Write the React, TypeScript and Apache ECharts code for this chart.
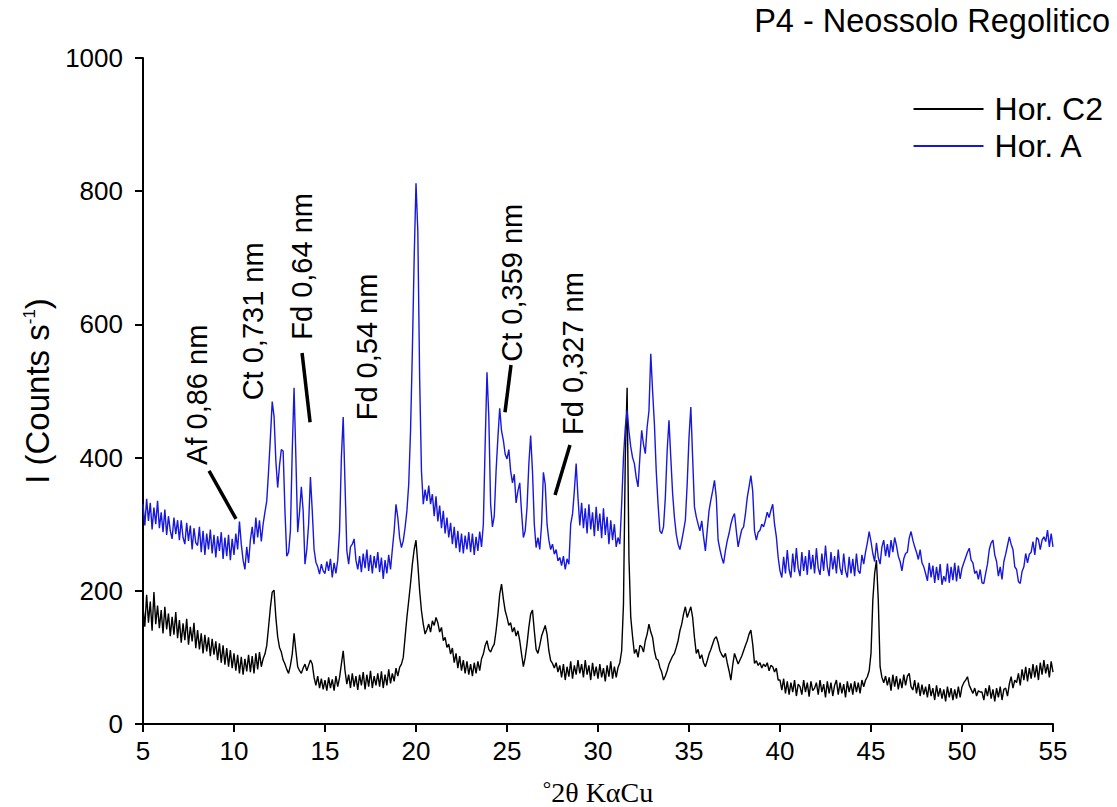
import React, { useEffect, useRef } from "react";
import * as echarts from "echarts";

// 2θ sampling grid of the digitised patterns (degrees)
const TWO_THETA_START = 5;
const TWO_THETA_STEP = 0.1;

// Hor. A (blue), intensity in counts/s, 5.0° .. 55.0° every 0.1°
const horA = [
  330, 298, 338, 305, 332, 292, 325, 300, 335, 294,
  318, 288, 322, 284, 312, 290, 278, 310, 285, 306,
  276, 306, 280, 270, 302, 275, 298, 262, 294, 272,
  268, 296, 258, 290, 254, 286, 262, 292, 256, 284,
  250, 282, 260, 288, 248, 280, 252, 284, 246, 278,
  254, 286, 262, 304, 270, 246, 232, 266, 242, 276,
  296, 270, 310, 280, 306, 274, 300, 318, 335, 380,
  430, 484, 462, 395, 355, 388, 412, 410, 320, 252,
  258, 290, 410, 505, 400, 288, 318, 356, 320, 240,
  262, 300, 371, 320, 262, 243, 236, 225, 240, 230,
  226, 244, 230, 248, 220, 242, 226, 246, 290, 400,
  461, 360, 260, 240, 266, 270, 278, 246, 232, 252,
  228, 256, 234, 262, 230, 254, 226, 252, 234, 258,
  228, 250, 218, 246, 226, 254, 232, 262, 290, 330,
  310, 280, 265, 275, 295, 320, 360, 440, 560, 700,
  812, 740, 520, 380, 330, 352, 335, 358, 330, 345,
  312, 342, 304, 328, 294, 320, 286, 310, 280, 302,
  270, 296, 264, 290, 258, 286, 256, 283, 262, 288,
  258, 286, 254, 281, 260, 289, 266, 300, 420, 528,
  462, 330, 296, 312, 380, 430, 474, 440, 426, 405,
  398, 412, 380, 362, 375, 332, 350, 362, 318, 280,
  290, 325, 390, 433, 380, 300, 265, 280, 262, 300,
  378, 360, 300, 276, 262, 270, 255, 262, 245, 250,
  238, 252, 232, 248, 240, 300, 315, 350, 391, 340,
  298, 332, 294, 324, 286, 330, 292, 318, 282, 326,
  290, 316, 279, 324, 284, 311, 270, 306, 276, 300,
  266, 280, 270, 330, 400, 445, 471, 440, 416, 400,
  391, 370, 356, 400, 441, 420, 406, 446, 470, 556,
  500, 450, 380, 330, 290, 286, 296, 340, 410, 456,
  400, 346, 310, 285, 270, 262, 275, 290, 306, 360,
  430, 476, 400, 326, 311, 300, 290, 305, 281, 260,
  290, 320, 336, 350, 366, 340, 276, 262, 250, 241,
  260, 275, 286, 300, 310, 316, 290, 266, 280, 292,
  296, 315, 340, 356, 373, 350, 290, 276, 288, 291,
  300, 296, 306, 318, 310, 321, 330, 300, 281, 250,
  230, 220, 251, 226, 261, 232, 220, 256, 228, 264,
  234, 222, 258, 230, 252, 224, 261, 232, 254, 226,
  264, 234, 224, 256, 230, 268, 236, 222, 258, 232,
  252, 226, 262, 234, 224, 256, 230, 220, 251, 226,
  248, 222, 256, 230, 226, 254, 240, 258, 272, 289,
  274, 256, 244, 272, 250, 240, 266, 276, 252, 270,
  250, 276, 258, 280, 268, 252, 244, 230, 248, 256,
  258, 279, 289, 276, 266, 258, 247, 262, 242, 236,
  226, 215, 242, 220, 238, 212, 236, 216, 240, 209,
  222, 214, 241, 212, 236, 216, 242, 214, 238, 218,
  234, 242, 250, 258, 264, 246, 242, 226, 230, 217,
  232, 212, 211, 226, 240, 262, 272, 276, 254, 244,
  222, 236, 217, 244, 255, 268, 281, 270, 262, 236,
  232, 214, 211, 229, 236, 256, 242, 255, 258, 274,
  254, 280, 277, 262, 276, 281, 274, 291, 266, 286,
  266,
];

// Hor. C2 (black), intensity in counts/s, 5.0° .. 55.0° every 0.1°
const horC2 = [
  176, 146, 194, 152, 184, 140, 198, 150, 178, 144,
  171, 136, 176, 142, 166, 132, 161, 134, 168, 129,
  156, 122, 151, 126, 158, 119, 146, 124, 152, 114,
  141, 112, 136, 106, 134, 109, 130, 102, 128, 104,
  124, 96, 121, 92, 118, 89, 114, 86, 111, 84,
  106, 80, 104, 76, 101, 74, 98, 79, 104, 78,
  102, 76, 106, 82, 108, 86, 98, 105, 118, 146,
  175, 198, 201, 160, 131, 115, 108, 96, 90, 82,
  76, 88, 105, 136, 110, 86, 80, 76, 84, 90,
  80, 88, 96, 90, 70, 58, 72, 54, 68, 52,
  66, 50, 70, 54, 67, 50, 72, 56, 70, 90,
  110, 80, 60, 74, 54, 76, 56, 72, 51, 74,
  58, 78, 52, 74, 56, 80, 54, 72, 58, 76,
  56, 79, 54, 74, 58, 82, 61, 76, 64, 84,
  72, 85, 90, 100, 130, 160, 185, 211, 240, 262,
  276, 240, 200, 170, 150, 135, 142, 150, 138, 155,
  148, 160, 152, 138, 145, 125, 130, 115, 120, 105,
  114, 92, 106, 84, 102, 80, 96, 76, 94, 74,
  90, 72, 92, 76, 94, 80, 98, 105, 118, 125,
  112, 108, 115, 120, 140, 165, 195, 210, 188, 170,
  160, 148, 152, 138, 145, 132, 140, 125, 105, 86,
  100, 120, 145, 165, 171, 140, 112, 106, 118, 132,
  140, 148, 135, 110, 95, 91, 84, 92, 78, 88,
  70, 90, 66, 86, 71, 94, 68, 88, 74, 96,
  76, 90, 70, 96, 74, 88, 66, 92, 72, 86,
  68, 90, 70, 84, 64, 88, 71, 94, 68, 86,
  70, 85, 92, 110, 180, 400, 505, 250, 160, 131,
  106, 112, 100, 118, 116, 108, 125, 135, 150, 138,
  130, 110, 98, 96, 85, 78, 66, 72, 80, 90,
  96, 102, 106, 115, 125, 140, 150, 165, 176, 160,
  168, 176, 160, 130, 106, 112, 98, 104, 92, 86,
  95, 105, 112, 120, 128, 131, 122, 110, 104, 100,
  106, 92, 80, 66, 88, 106, 98, 90, 96, 102,
  110, 118, 125, 135, 141, 120, 91, 95, 88, 92,
  84, 90, 86, 92, 80, 88, 86, 78, 84, 66,
  66, 51, 68, 46, 64, 44, 62, 48, 66, 42,
  60, 56, 44, 66, 48, 62, 41, 64, 50, 54,
  62, 44, 66, 48, 60, 40, 64, 46, 62, 42,
  58, 66, 44, 62, 46, 60, 40, 64, 48, 61,
  44, 64, 48, 62, 46, 66, 56, 66, 71, 80,
  106, 186, 226, 246, 186, 86, 70, 62, 72, 58,
  70, 50, 74, 56, 72, 52, 68, 54, 74, 58,
  72, 76, 56, 51, 66, 46, 62, 42, 59, 44,
  56, 40, 60, 42, 54, 36, 58, 41, 54, 38,
  52, 34, 56, 40, 54, 36, 52, 38, 56, 40,
  56, 62, 66, 71, 58, 52, 46, 54, 42, 50,
  48, 48, 36, 54, 42, 58, 38, 52, 34, 54,
  40, 56, 36, 52, 54, 42, 60, 71, 54, 66,
  62, 76, 58, 82, 66, 86, 64, 84, 68, 90,
  70, 88, 66, 92, 74, 96, 76, 90, 70, 94,
  78,
];

// Peak labels: text start (bottom of rotated text) in data coordinates [2θ, counts]
const peakLabels = ["Af 0,86 nm", "Ct 0,731 nm", "Fd 0,64 nm", "Fd 0,54 nm", "Ct 0,359 nm", "Fd 0,327 nm"];
const peakLabelAnchors = [
  [7.97, 389],
  [11.04, 486],
  [13.74, 577],
  [17.31, 456],
  [25.27, 544],
  [28.63, 434],
];
// Leader lines, [from, to] in data coordinates
const leaderLines = [
  [[8.63, 380], [10.11, 308]],
  [[13.74, 557], [14.18, 453]],
  [[25.22, 539], [24.89, 468]],
  [[28.46, 419], [27.64, 344]],
];

const SANS = "'Liberation Sans', Arial, sans-serif";
const SERIF = "'Liberation Serif', 'Times New Roman', serif";

const toPairs = (vals: number[]) =>
  vals.map((v, i) => [Number((TWO_THETA_START + i * TWO_THETA_STEP).toFixed(1)), v]);

export default function App() {
  const ref = useRef<HTMLDivElement>(null);

  useEffect(() => {
    document.body.style.margin = "0";
    if (!ref.current) return;
    const chart = echarts.init(ref.current, null, { renderer: "svg" });
    chart.setOption({
      animation: false,
      backgroundColor: "#ffffff",
      title: {
        text: "P4 - Neossolo Regolitico",
        right: 7,
        top: 4,
        padding: 0,
        textStyle: { fontFamily: SANS, fontSize: 32.5, fontWeight: "normal", color: "#000" },
      },
      legend: {
        orient: "vertical",
        right: 14,
        top: 93,
        padding: 0,
        itemGap: 5,
        itemWidth: 70,
        itemHeight: 2,
        icon: "rect",
        data: ["Hor. C2", "Hor. A"],
        textStyle: { fontFamily: SANS, fontSize: 32, color: "#000", padding: [0, 0, 0, 6] },
      },
      grid: {
        left: 143,
        top: 58,
        width: 910,
        height: 666,
        containLabel: false,
        outerBoundsMode: "none",
      },
      xAxis: {
        type: "value",
        min: 5,
        max: 55,
        interval: 5,
        name: "{d|°}{a|2θ KαCu}",
        nameLocation: "middle",
        nameGap: 54,
        nameTextStyle: {
          rich: {
            d: { fontFamily: SERIF, fontSize: 21, verticalAlign: "top", color: "#000" },
            a: { fontFamily: SERIF, fontSize: 28, color: "#000" },
          },
        },
        axisLine: { lineStyle: { color: "#000", width: 2 } },
        axisTick: { length: 8, lineStyle: { color: "#000", width: 2 } },
        axisLabel: { fontFamily: SANS, fontSize: 26, color: "#000", margin: 14 },
        splitLine: { show: false },
      },
      yAxis: {
        type: "value",
        min: 0,
        max: 1000,
        interval: 200,
        name: "{a|I (Counts s}{b|-1}{a|)}",
        nameLocation: "middle",
        nameGap: 82,
        nameTextStyle: {
          rich: {
            a: { fontFamily: SANS, fontSize: 33, color: "#000" },
            b: { fontFamily: SANS, fontSize: 17, verticalAlign: "top", color: "#000" },
          },
        },
        axisLine: { show: true, lineStyle: { color: "#000", width: 2 } },
        axisTick: { show: true, length: 8, lineStyle: { color: "#000", width: 2 } },
        axisLabel: {
          fontFamily: SANS,
          fontSize: 26,
          color: "#000",
          margin: 20,
          formatter: (v: number) => String(v),
        },
        splitLine: { show: false },
      },
      series: [
        {
          name: "Hor. C2",
          type: "line",
          data: toPairs(horC2),
          showSymbol: false,
          symbol: "none",
          color: "#000000",
          lineStyle: { color: "#000000", width: 1.4 },
        },
        {
          name: "Hor. A",
          type: "line",
          data: toPairs(horA),
          showSymbol: false,
          symbol: "none",
          color: "#1818dc",
          lineStyle: { color: "#1818dc", width: 1.4 },
        },
      ],
    });

    const graphics: any[] = [];
    peakLabels.forEach((label, i) => {
      const [px, py] = chart.convertToPixel({ gridIndex: 0 }, peakLabelAnchors[i]) as number[];
      graphics.push({
        type: "text",
        x: px,
        y: py,
        rotation: Math.PI / 2,
        style: {
          text: label,
          fontFamily: SANS,
          fontSize: 29,
          fill: "#000",
          align: "left",
          verticalAlign: "middle",
        },
      });
    });
    leaderLines.forEach(([a, b]) => {
      const [x1, y1] = chart.convertToPixel({ gridIndex: 0 }, a) as number[];
      const [x2, y2] = chart.convertToPixel({ gridIndex: 0 }, b) as number[];
      graphics.push({
        type: "line",
        shape: { x1, y1, x2, y2 },
        style: { stroke: "#000", lineWidth: 3.5 },
      });
    });
    chart.setOption({ graphic: graphics });

    return () => chart.dispose();
  }, []);

  return <div ref={ref} style={{ width: 1117, height: 807 }} />;
}
